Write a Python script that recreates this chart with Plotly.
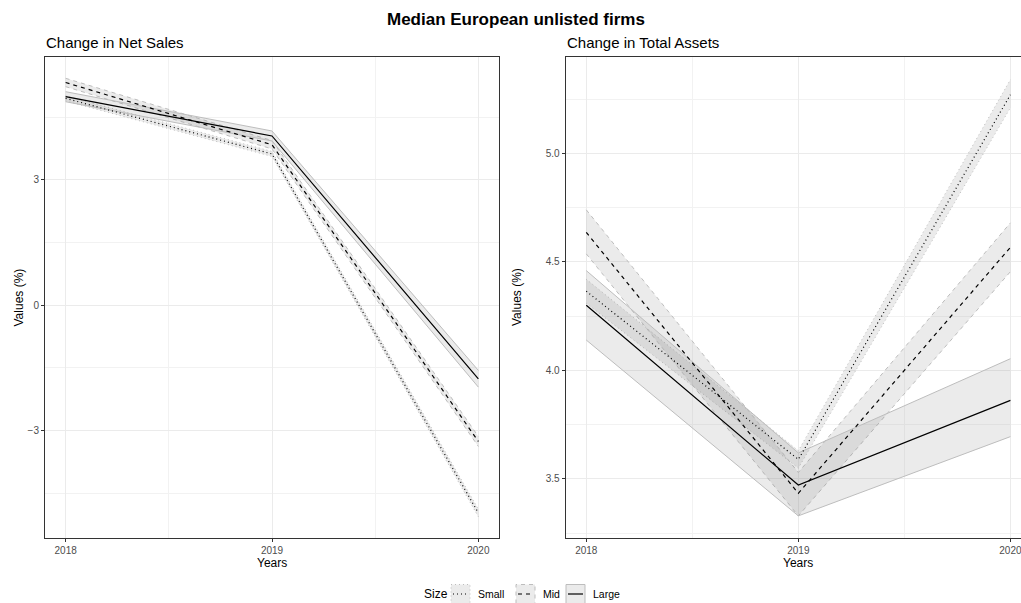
import plotly.graph_objects as go

# ---------------- data ----------------
years = [2018, 2019, 2020]
size_labels = ["Small", "Mid", "Large"]

# Change in Net Sales (%)
sales_small = [4.95, 3.62, -4.97]
sales_small_lo = [4.89, 3.56, -5.06]
sales_small_hi = [5.01, 3.68, -4.88]
sales_mid = [5.33, 3.84, -3.26]
sales_mid_lo = [5.23, 3.74, -3.38]
sales_mid_hi = [5.43, 3.94, -3.14]
sales_large = [4.99, 4.05, -1.76]
sales_large_lo = [4.87, 3.93, -1.96]
sales_large_hi = [5.11, 4.17, -1.56]

# Change in Total Assets (%)
assets_small = [4.365, 3.59, 5.27]
assets_small_lo = [4.31, 3.55, 5.21]
assets_small_hi = [4.42, 3.63, 5.34]
assets_mid = [4.636, 3.434, 4.567]
assets_mid_lo = [4.537, 3.33, 4.455]
assets_mid_hi = [4.74, 3.53, 4.68]
assets_large = [4.30, 3.472, 3.862]
assets_large_lo = [4.14, 3.33, 3.695]
assets_large_hi = [4.46, 3.62, 4.054]

sales_ticks = [-3, 0, 3]
assets_ticks = [3.5, 4.0, 4.5, 5.0]

# ---------------- styles ----------------
W, H = 1021, 603
FONT = "Liberation Sans, Arial, sans-serif"
dashes = {"Small": "1px,3px", "Mid": "4px,4px", "Large": "solid"}
RIB_FILL = "rgba(128,128,128,0.16)"
RIB_EDGE = "#bdbdbd"

fig = go.Figure()

panels = [
    ("x", "y", {
        "Small": (sales_small, sales_small_lo, sales_small_hi),
        "Mid": (sales_mid, sales_mid_lo, sales_mid_hi),
        "Large": (sales_large, sales_large_lo, sales_large_hi),
    }),
    ("x2", "y2", {
        "Small": (assets_small, assets_small_lo, assets_small_hi),
        "Mid": (assets_mid, assets_mid_lo, assets_mid_hi),
        "Large": (assets_large, assets_large_lo, assets_large_hi),
    }),
]

for xa, ya, series in panels:
    # ribbons first
    for name in size_labels:
        mid, lo, hi = series[name]
        fig.add_trace(go.Scatter(
            x=years + years[::-1], y=hi + lo[::-1], xaxis=xa, yaxis=ya,
            mode="lines", fill="toself", fillcolor=RIB_FILL,
            line=dict(width=0), hoverinfo="skip", showlegend=False))
        for edge in (lo, hi):
            fig.add_trace(go.Scatter(
                x=years, y=edge, xaxis=xa, yaxis=ya, mode="lines",
                line=dict(color=RIB_EDGE, width=1, dash=dashes[name]),
                hoverinfo="skip", showlegend=False))
    for name in size_labels:
        mid, lo, hi = series[name]
        fig.add_trace(go.Scatter(
            x=years, y=mid, xaxis=xa, yaxis=ya, mode="lines", name=name,
            line=dict(color="black", width=1.2, dash=dashes[name]),
            showlegend=False))

# ---------------- layout ----------------
def px_x(p):
    return p / W

def px_y(p):
    return 1 - p / H

y_dom = [px_y(538), px_y(57)]
common_axis = dict(
    showgrid=True, gridcolor="#ebebeb", gridwidth=1,
    zeroline=False, showline=True, linecolor="#333333", linewidth=1,
    ticks="outside", ticklen=3, tickwidth=1, tickcolor="#333333",
    ticklabeloverflow="allow",
    tickfont=dict(family=FONT, size=10, color="#4d4d4d"),
)

fig.update_layout(
    width=W, height=H, margin=dict(l=0, r=0, t=0, b=0),
    paper_bgcolor="white", plot_bgcolor="white", showlegend=False,
    xaxis=dict(domain=[px_x(45), px_x(499)], range=[2017.9, 2020.1],
               tickvals=years, mirror=True, anchor="y",
               minor=dict(tickvals=[2018.5, 2019.5], showgrid=True,
                          gridcolor="#f2f2f2", gridwidth=0.6, ticks=""),
               **common_axis),
    yaxis=dict(domain=y_dom, range=[-5.57, 5.94], tickvals=sales_ticks,
               mirror=True, anchor="x",
               minor=dict(tickvals=[-4.5, -1.5, 1.5, 4.5], showgrid=True,
                          gridcolor="#f2f2f2", gridwidth=0.6, ticks=""),
               **common_axis),
    xaxis2=dict(domain=[px_x(565.7), 1.0], range=[2017.903, 2020.05],
                tickvals=years, mirror=True, anchor="y2",
                minor=dict(tickvals=[2018.5, 2019.5], showgrid=True,
                           gridcolor="#f2f2f2", gridwidth=0.6, ticks=""),
                **common_axis),
    yaxis2=dict(domain=y_dom, range=[3.228, 5.444], tickvals=assets_ticks,
                tickformat=".1f", anchor="x2",
                minor=dict(tickvals=[3.25, 3.75, 4.25, 4.75, 5.25], showgrid=True,
                           gridcolor="#f2f2f2", gridwidth=0.6, ticks=""),
                **common_axis),
)

ann = []
def text(x, y, s, size, xanchor="center", yanchor="middle", bold=False,
         color="black", angle=0):
    ann.append(dict(x=px_x(x), y=px_y(y), xref="paper", yref="paper",
                    text=f"<b>{s}</b>" if bold else s, showarrow=False,
                    xanchor=xanchor, yanchor=yanchor, textangle=angle,
                    font=dict(family=FONT, size=size, color=color)))

text(515.5, 20, "Median European unlisted firms", 17, bold=True)
text(44, 42, "Change in Net Sales", 15, xanchor="left")
text(564.5, 42, "Change in Total Assets", 15, xanchor="left")
text(272, 563, "Years", 12)
text(798, 563, "Years", 12)
text(18, 297.5, "Values (%)", 12, angle=-90)
text(516.5, 297.5, "Values (%)", 12, angle=-90)

# legend (manual, ggplot-like)
shapes = []
text(422, 594, "Size", 12, xanchor="left")
key_x = {"Small": 451, "Mid": 516, "Large": 566}
lab_x = {"Small": 476, "Mid": 541, "Large": 591}
for name in size_labels:
    x0 = key_x[name]
    shapes.append(dict(type="rect", xref="paper", yref="paper",
                       x0=px_x(x0), x1=px_x(x0 + 19), y0=px_y(603.5), y1=px_y(584.5),
                       fillcolor="#ebebeb",
                       line=dict(color=RIB_EDGE, width=1, dash=dashes[name])))
    shapes.append(dict(type="line", xref="paper", yref="paper",
                       x0=px_x(x0 + 2), x1=px_x(x0 + 17), y0=px_y(594), y1=px_y(594),
                       line=dict(color="black", width=1.2, dash=dashes[name])))
    text(lab_x[name], 594, name, 10.5, xanchor="left")

fig.update_layout(annotations=ann, shapes=shapes)
fig.write_html("out.html", config={"displayModeBar": False},
               post_script="document.body.style.margin='0px';"
                           "document.body.style.overflow='hidden';")
